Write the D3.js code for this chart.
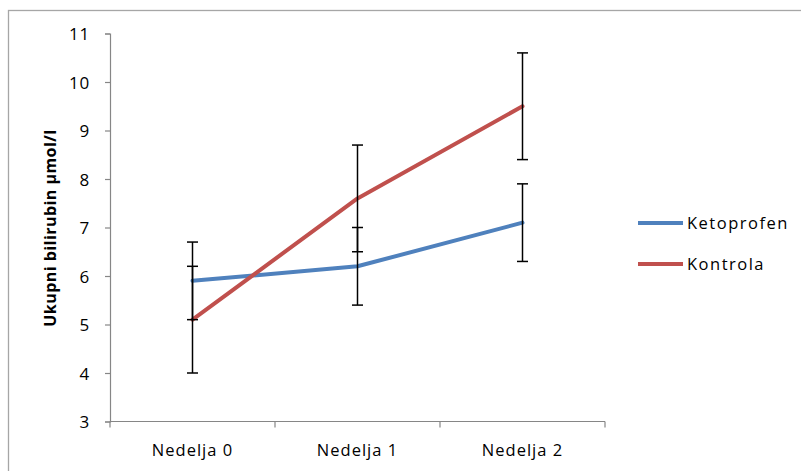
<!DOCTYPE html>
<html>
<head>
<meta charset="utf-8">
<script src="https://cdn.jsdelivr.net/npm/d3@7"></script>
<style>
  html, body { margin: 0; padding: 0; background: #fff; }
  svg { display: block; }
  text { font-family: "Open Sans", "Liberation Sans", sans-serif; fill: #000; }
</style>
</head>
<body>
<svg id="chart" width="801" height="471"></svg>
<script>
const categories = ["Nedelja 0", "Nedelja 1", "Nedelja 2"];
const seriesNames = ["Ketoprofen", "Kontrola"];
const ketoprofen = [5.9, 6.2, 7.1];
const ketoprofenErr = [0.8, 0.8, 0.8];
const kontrola = [5.1, 7.6, 9.5];
const kontrolaErr = [1.1, 1.1, 1.1];
const yTicks = [3, 4, 5, 6, 7, 8, 9, 10, 11];
const yLabel = "Ukupni bilirubin  \u03bcmol/l";
const colors = ["#4F81BD", "#C0504D"];

const series = [
  { name: seriesNames[0], values: ketoprofen, err: ketoprofenErr, color: colors[0] },
  { name: seriesNames[1], values: kontrola, err: kontrolaErr, color: colors[1] }
];

const svg = d3.select("#chart");
const plot = { left: 110, right: 605, top: 33.5, bottom: 421.5 };

// outer chart border
svg.append("rect")
  .attr("x", 8.5).attr("y", 10.5)
  .attr("width", 801).attr("height", 480)
  .attr("fill", "none").attr("stroke", "#a6a6a6").attr("stroke-width", 1.3);

const x = d3.scaleBand().domain(categories).range([plot.left, plot.right]).padding(0);
const y = d3.scaleLinear().domain([3, 11]).range([plot.bottom, plot.top]);

// Y axis
const yAxis = d3.axisLeft(y).tickValues(yTicks).tickSize(5).tickPadding(15).tickFormat(d3.format("d"));
const gy = svg.append("g").attr("transform", `translate(${plot.left},0)`).call(yAxis);
gy.select(".domain").attr("stroke", "#868686").attr("stroke-width", 1.2);
gy.selectAll(".tick line").attr("stroke", "#868686").attr("stroke-width", 1.2);
gy.selectAll(".tick text").style("font-size", "17px").style("letter-spacing", "0.8px").attr("dy", "0.36em");

// X axis (ticks at category boundaries)
const gx = svg.append("g").attr("transform", `translate(0,${plot.bottom})`);
gx.append("line")
  .attr("x1", plot.left).attr("x2", plot.right).attr("y1", 0).attr("y2", 0)
  .attr("stroke", "#868686").attr("stroke-width", 1.2);
const boundaries = categories.map(c => x(c)).concat([x(categories[categories.length - 1]) + x.bandwidth()]);
gx.selectAll("line.tk").data(boundaries).join("line").attr("class", "tk")
  .attr("x1", d => d).attr("x2", d => d).attr("y1", 0).attr("y2", 6)
  .attr("stroke", "#868686").attr("stroke-width", 1.2);
gx.selectAll("text").data(categories).join("text")
  .attr("x", d => x(d) + x.bandwidth() / 2).attr("y", 34)
  .attr("text-anchor", "middle")
  .style("font-size", "16.5px").style("letter-spacing", "1px")
  .text(d => d);

// Y label
svg.append("text")
  .attr("transform", `translate(56,228) rotate(-90)`)
  .attr("text-anchor", "middle")
  .style("font-size", "16px").style("font-weight", "bold").style("letter-spacing", "0.45px")
  .text(yLabel);

const cx = c => x(c) + x.bandwidth() / 2;
const line = d3.line().x((d, i) => cx(categories[i])).y(d => y(d));

// lines
series.forEach(s => {
  svg.append("path").datum(s.values)
    .attr("d", line).attr("fill", "none")
    .attr("stroke", s.color).attr("stroke-width", 4)
    .attr("stroke-linejoin", "round").attr("stroke-linecap", "round");
});

// error bars
series.forEach(s => {
  const g = svg.append("g").attr("stroke", "#000").attr("stroke-width", 1.5);
  s.values.forEach((v, i) => {
    const px = cx(categories[i]);
    const lo = y(v - s.err[i]), hi = y(v + s.err[i]);
    g.append("line").attr("x1", px).attr("x2", px).attr("y1", lo).attr("y2", hi);
    g.append("line").attr("x1", px - 5.5).attr("x2", px + 5.5).attr("y1", lo).attr("y2", lo);
    g.append("line").attr("x1", px - 5.5).attr("x2", px + 5.5).attr("y1", hi).attr("y2", hi);
  });
});

// legend
const leg = svg.append("g");
series.forEach((s, i) => {
  const ly = 223 + i * 41;
  leg.append("line").attr("x1", 638).attr("x2", 683).attr("y1", ly).attr("y2", ly)
    .attr("stroke", s.color).attr("stroke-width", 4);
  leg.append("text").attr("x", 687).attr("y", ly).attr("dy", "0.36em")
    .style("font-size", "16.5px").style("letter-spacing", "1.5px")
    .text(s.name);
});
</script>
</body>
</html>
